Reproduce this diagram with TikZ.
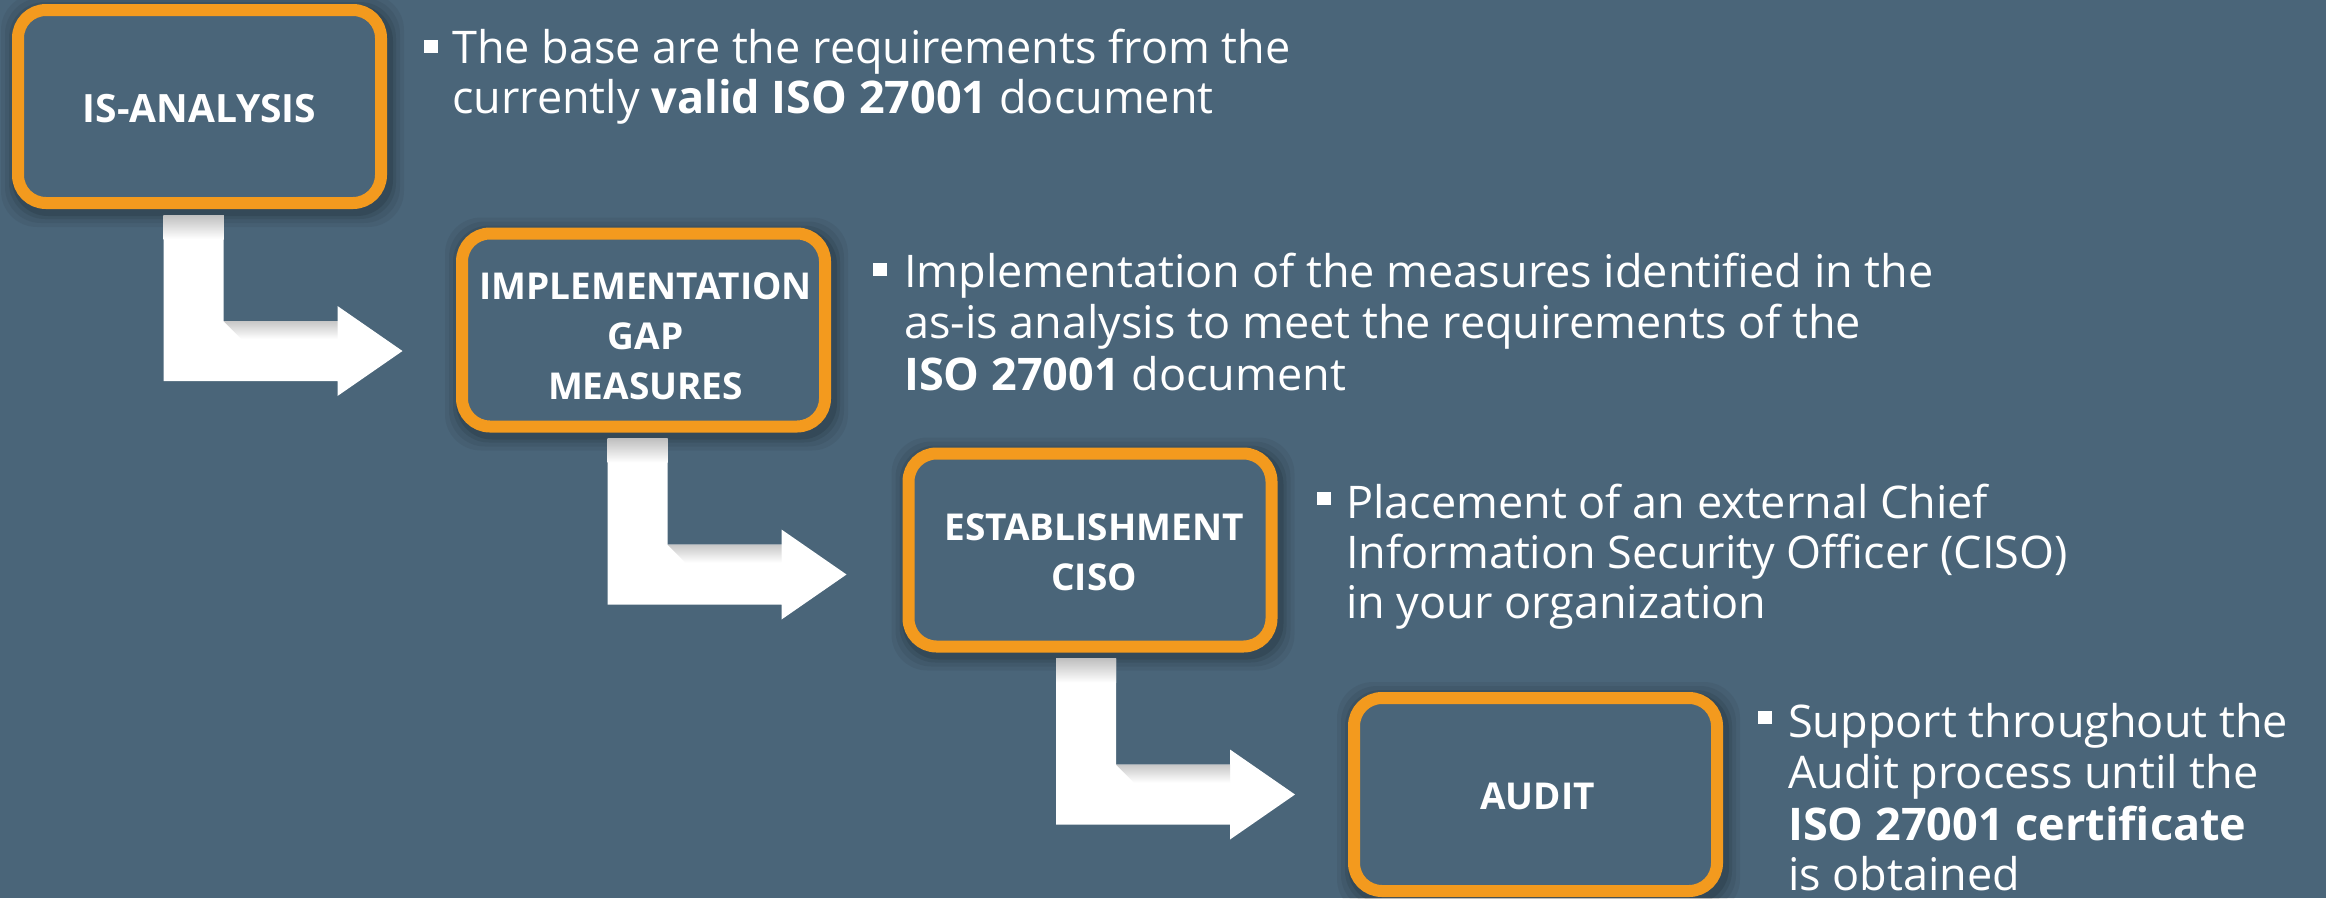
\documentclass[tikz,border=0pt]{standalone}
\usepackage{fontspec}
\setmainfont{Open Sans}
\usetikzlibrary{calc}
\definecolor{bgc}{HTML}{4A6579}
\definecolor{org}{HTML}{F39A1E}
\newcommand\myshadow[2]{%
  \foreach \s/\o in {14/0.05,10/0.06,6/0.08,3/0.10}{%
    \fill[black,opacity=\o,rounded corners=36pt]
      (#1-187.5-\s+3,#2-102.5-\s+4) rectangle (#1+187.5+\s+3,#2+102.5+\s+4);
  }%
}
\newcommand\larrow[1]{%
  \fill[white] ($(#1)+(-30,0)$) -- ++(0,166) -- ++(174,0) -- ++(0,15) -- ++(65,-45)
     -- ++(-65,-45) -- ++(0,15) -- ++(-114,0) -- ++(0,-106) -- cycle;
  \shade[top color=black!25, bottom color=white] ($(#1)+(-30,0)$) rectangle ($(#1)+(30,24)$);
  \shade[top color=black!22, bottom color=white] ($(#1)+(30,106)$) -- ($(#1)+(144,106)$)
     -- ($(#1)+(144,124)$) -- ($(#1)+(48,124)$) -- cycle;
}
\begin{document}
\begin{tikzpicture}[x=1pt,y=-1pt,
  stepbox/.style={draw=org, line width=12pt, rounded corners=28pt, minimum width=363pt,
    minimum height=193pt, inner sep=0pt, fill=bgc},
  boxlabel/.style={text=white, font=\fontsize{37}{50}\selectfont\bfseries, align=center, inner sep=0pt},
  bodyline/.style={text=white, font=\fontsize{45}{50}\selectfont, anchor=base west, inner sep=0pt},
  bulletsq/.style={fill=white, minimum width=14pt, minimum height=13pt, inner sep=0pt},
  ]
\fill[bgc] (0,0) rectangle (2326,898);
\useasboundingbox (0,0) rectangle (2326,898);

% shadows
\myshadow{199.5}{106.5}
\myshadow{643.5}{330}
\myshadow{1090}{550}
\myshadow{1535.5}{794.5}

% boxes
\node[stepbox] (b1) at (199.5,106.5) {};
\node[stepbox] (b2) at (643.5,330) {};
\node[stepbox] (b3) at (1090,550) {};
\node[stepbox] (b4) at (1535.5,794.5) {};

% arrows (from box to next box)
\coordinate (a1) at ($(b1.south)+(-6,6)$);
\coordinate (a2) at ($(b2.south)+(-6,6)$);
\coordinate (a3) at ($(b3.south)+(-4,6)$);
\larrow{a1}
\larrow{a2}
\larrow{a3}

% labels
\node[boxlabel] (l1) at ($(b1.center)+(0,2)$) {\fontsize{39}{50}\selectfont IS-ANALYSIS};
\node[boxlabel] (l2) at ($(b2.center)+(2,6)$) {IMPLEMENTATION\\GAP\\MEASURES};
\node[boxlabel] (l3) at ($(b3.center)+(4,2)$) {ESTABLISHMENT\\CISO};
\node[boxlabel] (l4) at ($(b4.center)+(2,2)$) {AUDIT};

% bullets
\node[bulletsq] (q1) at (431,46.5) {};
\node[bulletsq] (q2) at (880,269.5) {};
\node[bulletsq] (q3) at (1324,498.5) {};
\node[bulletsq] (q4) at (1764.5,717.5) {};

% texts
\node[bodyline] (t11) at (452,63) {The base are the requirements from the};
\node[bodyline] (t12) at (452,113) {currently \textbf{valid ISO 27001} document};

\node[bodyline] (t21) at (904,287) {Implementation of the measures identified in the};
\node[bodyline] (t22) at (904,338) {as-is analysis to meet the requirements of the};
\node[bodyline] (t23) at (904,390) {\textbf{ISO 27001} document};

\node[bodyline] (t31) at (1346,518) {Placement of an external Chief};
\node[bodyline] (t32) at (1346,568) {Information Security Officer (CISO)};
\node[bodyline] (t33) at (1346,618) {in your organization};

\node[bodyline] (t41) at (1788,737) {Support throughout the};
\node[bodyline] (t42) at (1788,788) {Audit process until the};
\node[bodyline] (t43) at (1788,840) {\textbf{ISO 27001 certificate}};
\node[bodyline] (t44) at (1788,890) {is obtained};
\end{tikzpicture}
\end{document}
